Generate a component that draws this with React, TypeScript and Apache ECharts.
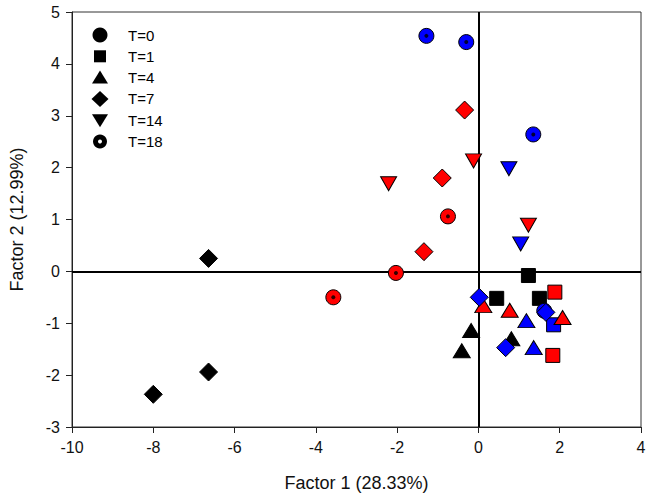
import React, { useEffect, useRef } from "react";
import * as echarts from "echarts";

// ---- data ----
const xTicks = { min: -10, max: 4, interval: 2 };
const yTicks = { min: -3, max: 5, interval: 1 };
const xTitle = "Factor 1 (28.33%)";
const yTitle = "Factor 2 (12.99%)";
const legendLabels = ["T=0", "T=1", "T=4", "T=7", "T=14", "T=18"];

// black group
const blackT1 = [[1.23, -0.08], [0.45, -0.52], [1.5, -0.52]];
const blackT4 = [[-0.18, -1.14], [0.81, -1.3], [-0.41, -1.53]];
const blackT7 = [[-6.64, 0.25], [-6.64, -1.94], [-8.0, -2.37]];
// red group
const redT1 = [[1.88, -0.4], [1.83, -1.62]];
const redT4 = [[0.12, -0.66], [0.77, -0.75], [2.07, -0.89]];
const redT7 = [[-0.34, 3.11], [-0.89, 1.8], [-1.34, 0.38]];
const redT14 = [[-0.12, 2.13], [-2.21, 1.69], [1.23, 0.89]];
const redT18 = [[-0.75, 1.06], [-2.03, -0.03], [-3.57, -0.5]];
// blue group
const blueT0 = [[1.62, -0.76]];
const blueT1 = [[1.85, -1.03]];
const blueT4 = [[1.18, -0.95], [1.36, -1.47]];
const blueT7 = [[0.02, -0.5], [1.66, -0.79], [0.67, -1.47]];
const blueT14 = [[0.75, 1.98], [1.04, 0.53]];
const blueT18 = [[-1.28, 4.54], [-0.3, 4.42], [1.35, 2.64]];

const BLACK = "#000000";
const RED = "#ff0000";
const BLUE = "#0000ff";
const FONT = "'Liberation Sans', Arial, sans-serif";
const INV_TRI = "path://M0,0L10,0L5,8.66Z";

const SYM: Record<string, { symbol: string; size: any }> = {
  T0: { symbol: "circle", size: 15 },
  T1: { symbol: "rect", size: 14 },
  T4: { symbol: "triangle", size: [17, 14] },
  T7: { symbol: "diamond", size: 18 },
  T14: { symbol: INV_TRI, size: [16, 14] },
  T18: { symbol: "circle", size: 15 },
};

function sc(name: string, data: number[][], key: string, color: string, extra: any = {}) {
  return {
    type: "scatter",
    name,
    data,
    symbol: SYM[key].symbol,
    symbolSize: SYM[key].size,
    itemStyle: { color, borderColor: "#000", borderWidth: 1, opacity: 1 },
    emphasis: { disabled: true },
    z: 3,
    ...extra,
  };
}

function dots(name: string, data: number[][]) {
  return {
    type: "scatter",
    name,
    data,
    symbol: "circle",
    symbolSize: 4,
    itemStyle: { color: "#000" },
    emphasis: { disabled: true },
    z: 4,
  };
}

function legendGraphic() {
  const items: any[] = [];
  const cx = 100;
  const y0 = 35;
  const step = 21.3;
  legendLabels.forEach((label, i) => {
    const cy = y0 + i * step;
    const fill = { fill: "#000" };
    if (i === 0) items.push({ type: "circle", shape: { cx, cy, r: 7.5 }, style: fill });
    if (i === 1) items.push({ type: "rect", shape: { x: cx - 6, y: cy - 6, width: 12, height: 12 }, style: fill });
    if (i === 2)
      items.push({ type: "polygon", shape: { points: [[cx, cy - 7], [cx + 8, cy + 6], [cx - 8, cy + 6]] }, style: fill });
    if (i === 3)
      items.push({ type: "polygon", shape: { points: [[cx, cy - 8], [cx + 8.5, cy], [cx, cy + 8], [cx - 8.5, cy]] }, style: fill });
    if (i === 4)
      items.push({ type: "polygon", shape: { points: [[cx - 8, cy - 6], [cx + 8, cy - 6], [cx, cy + 7]] }, style: fill });
    if (i === 5) {
      items.push({ type: "circle", shape: { cx, cy, r: 7 }, style: fill });
      items.push({ type: "circle", shape: { cx, cy, r: 2 }, style: { fill: "#fff" } });
    }
    items.push({
      type: "text",
      x: 128,
      y: cy,
      style: { text: label, fill: "#000", font: `15px ${FONT}`, verticalAlign: "middle", align: "left" },
    });
  });
  return items;
}

export default function App() {
  const ref = useRef<HTMLDivElement>(null);
  useEffect(() => {
    if (!ref.current) return;
    const chart = echarts.init(ref.current, null, { renderer: "svg" });
    const axisCommon = {
      type: "value",
      splitLine: { show: false },
      axisLine: { show: true, onZero: false, lineStyle: { color: "#222", width: 1 } },
      axisTick: { show: true, inside: false, length: 6, lineStyle: { color: "#222", width: 1 } },
      axisLabel: { color: "#111", fontSize: 16, fontFamily: FONT },
      nameLocation: "middle",
      nameTextStyle: { color: "#111", fontSize: 18, fontFamily: FONT },
    };
    const option: any = {
      animation: false,
      backgroundColor: "#fff",
      grid: { left: 66, right: 11, top: 12, bottom: 74, show: true, borderColor: "#333", borderWidth: 1 },
      xAxis: {
        ...axisCommon,
        min: xTicks.min,
        max: xTicks.max,
        interval: xTicks.interval,
        axisLabel: { ...axisCommon.axisLabel, margin: 12 },
        name: xTitle,
        nameGap: 47,
      },
      yAxis: {
        ...axisCommon,
        min: yTicks.min,
        max: yTicks.max,
        interval: yTicks.interval,
        axisLabel: { ...axisCommon.axisLabel, margin: 12 },
        name: yTitle,
        nameGap: 46,
      },
      graphic: legendGraphic(),
      series: [
        sc("black T=1", blackT1, "T1", BLACK, {
          markLine: {
            silent: true,
            z: 1,
            symbol: ["none", "none"],
            label: { show: false },
            lineStyle: { color: "#000", width: 2, type: "solid" },
            emphasis: { disabled: true },
            data: [{ xAxis: 0 }, { yAxis: 0 }],
          },
        }),
        sc("black T=4", blackT4, "T4", BLACK),
        sc("black T=7", blackT7, "T7", BLACK),
        sc("blue T=0", blueT0, "T0", BLUE),
        sc("blue T=1", blueT1, "T1", BLUE),
        sc("red T=1", redT1, "T1", RED),
        sc("red T=4", redT4, "T4", RED),
        sc("red T=7", redT7, "T7", RED),
        sc("red T=14", redT14, "T14", RED),
        sc("red T=18", redT18, "T18", RED),
        sc("blue T=4", blueT4, "T4", BLUE),
        sc("blue T=7", blueT7, "T7", BLUE),
        sc("blue T=14", blueT14, "T14", BLUE),
        sc("blue T=18", blueT18, "T18", BLUE),
        dots("red T=18 dot", redT18),
        dots("blue T=18 dot", blueT18),
      ],
    };
    chart.setOption(option);
    return () => chart.dispose();
  }, []);
  return <div ref={ref} style={{ position: "fixed", left: 0, top: 0, width: 652, height: 501 }} />;
}
